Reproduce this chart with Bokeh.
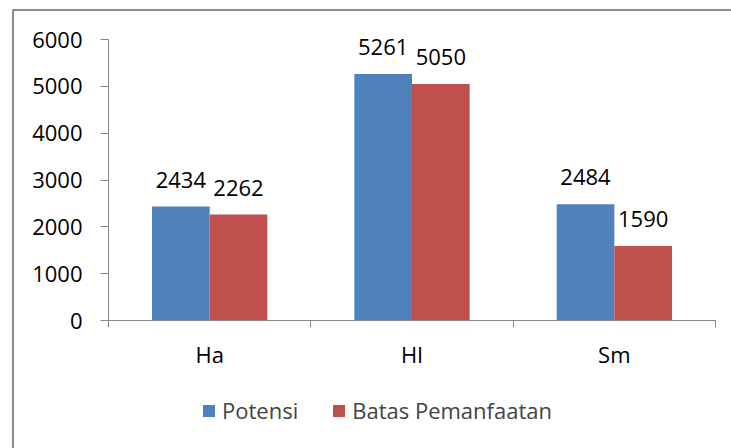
from bokeh.plotting import figure
from bokeh.models import (ColumnDataSource, FixedTicker, LabelSet, Legend, LegendItem,
                          Range1d, BoxAnnotation)
from bokeh.core.properties import value
from bokeh.embed import file_html
from bokeh.resources import INLINE

categories = ["Ha", "Hl", "Sm"]
potensi = [2434, 5261, 2484]
batas = [2262, 5050, 1590]
y_ticks = [0, 1000, 2000, 3000, 4000, 5000, 6000]

BLUE = "#4F81BD"
RED = "#C0504D"
AXIS = "#868686"
BORDER = "#8c8c8c"
FONT = "Open Sans"

W, H = 731, 448
FL, FT = 6, 4             # frame left / top, px
BL, BT = 12.5, 9.5        # chart border left / top, px
AX_L, AX_R = 108, 715     # plot area left / right, px
AX_T, AX_B = 39, 320      # plot area top / bottom, px
YMAX = 6000
ncat = len(categories)

ppx = (AX_R - AX_L) / ncat
ppy = (AX_B - AX_T) / YMAX
x_range = Range1d(-(AX_L - FL) / ppx, ncat + (W - AX_R) / ppx)
y_range = Range1d(-(H - AX_B) / ppy, YMAX + (AX_T - FT) / ppy)

centers = [i + 0.5 for i in range(ncat)]
bw = 0.285
src_p = ColumnDataSource(dict(x=[c - bw / 2 for c in centers], top=potensi,
                              lab=[str(v) for v in potensi]))
src_b = ColumnDataSource(dict(x=[c + bw / 2 for c in centers], top=batas,
                              lab=[str(v) for v in batas]))

p = figure(width=W, height=H, output_backend="svg", toolbar_location=None,
           x_range=x_range, y_range=y_range,
           min_border_left=FL, min_border_right=0, min_border_top=FT,
           min_border_bottom=0)
p.xgrid.visible = False
p.ygrid.visible = False
p.outline_line_color = None

# chart border (only left and top edges fall inside the picture)
p.add_layout(BoxAnnotation(left=-(AX_L - BL) / ppx, top=YMAX + (AX_T - BT) / ppy,
                           right=x_range.end + 1, bottom=y_range.start - 2000,
                           fill_alpha=0, line_color=BORDER, line_alpha=1.0,
                           line_width=2, editable=False))

r1 = p.vbar(x="x", top="top", width=bw, source=src_p, fill_color=BLUE, line_color=None)
r2 = p.vbar(x="x", top="top", width=bw, source=src_b, fill_color=RED, line_color=None)

for src in (src_p, src_b):
    p.add_layout(LabelSet(x="x", y="top", text="lab", source=src, y_offset=19,
                          text_align="center", text_baseline="alphabetic",
                          text_font=value(FONT), text_font_size="22px",
                          text_color="black"))

# axes
p.yaxis.fixed_location = 0
p.yaxis.bounds = (0, YMAX)
p.yaxis.ticker = FixedTicker(ticks=y_ticks)
p.yaxis.axis_line_color = AXIS
p.yaxis.major_tick_line_color = AXIS
p.yaxis.major_tick_out = 8
p.yaxis.major_tick_in = 0
p.yaxis.minor_tick_line_color = None
p.yaxis.major_label_text_font = FONT
p.yaxis.major_label_text_font_size = "22px"
p.yaxis.major_label_text_color = "black"
p.yaxis.major_label_standoff = 18

p.xaxis.fixed_location = 0
p.xaxis.bounds = (0, ncat)
p.xaxis.ticker = FixedTicker(ticks=centers, minor_ticks=list(range(ncat + 1)))
p.xaxis.major_label_overrides = {c: n for c, n in zip(centers, categories)}
p.xaxis.axis_line_color = AXIS
p.xaxis.major_tick_line_color = None
p.xaxis.major_tick_out = 0
p.xaxis.major_tick_in = 0
p.xaxis.minor_tick_line_color = AXIS
p.xaxis.minor_tick_out = 7
p.xaxis.minor_tick_in = 0
p.xaxis.major_label_text_font = FONT
p.xaxis.major_label_text_font_size = "22px"
p.xaxis.major_label_text_color = "black"
p.xaxis.major_label_standoff = 11

legend = Legend(items=[LegendItem(label="Potensi", renderers=[r1]),
                       LegendItem(label="Batas Pemanfaatan", renderers=[r2])],
                orientation="horizontal", location=(201 - FL, H - 425),
                label_text_font=FONT, label_text_font_size="22px",
                glyph_width=15, glyph_height=15, label_standoff=6, spacing=33,
                padding=0, margin=0, border_line_color=None, background_fill_alpha=0)
p.add_layout(legend, "center")

open("out.html", "w").write(file_html(p, INLINE))
